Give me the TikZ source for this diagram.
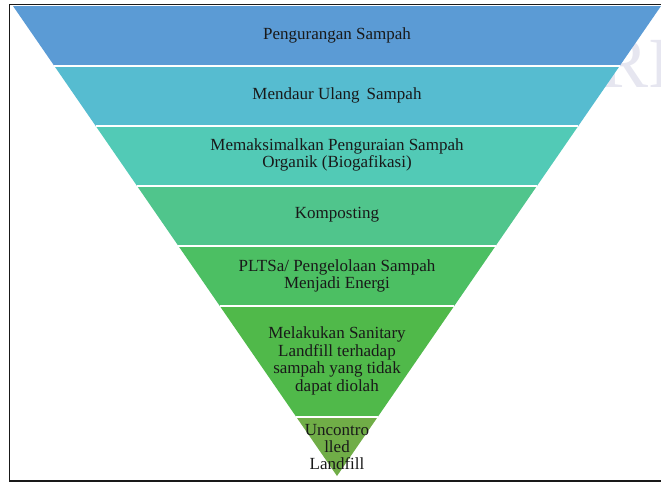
\documentclass[tikz,border=0pt]{standalone}
\usepackage{fontspec}
\setmainfont{Liberation Serif}
\usetikzlibrary{calc}
\definecolor{lvlA}{HTML}{5B9BD5}
\definecolor{lvlB}{HTML}{56BCD0}
\definecolor{lvlC}{HTML}{52CAB6}
\definecolor{lvlD}{HTML}{50C58C}
\definecolor{lvlE}{HTML}{4CBF63}
\definecolor{lvlF}{HTML}{50B94A}
\definecolor{lvlG}{HTML}{70AD47}
\definecolor{wmark}{HTML}{E6E6F0}
\begin{document}
\begin{tikzpicture}[x=1pt,y=-1pt,
  lbl/.style={font=\fontsize{17}{17.4}\selectfont, align=center, text=black!90, inner sep=0pt},
  sep/.style={white, line width=1.8pt},
  frame/.style={black!90, line width=1.6pt}]
\useasboundingbox (0,0) rectangle (661,483);
% faint watermark behind the funnel
\node[text=wmark, font=\fontsize{72}{72}\selectfont, anchor=west, inner sep=0pt] (wm) at (600,64) {RI};
% outer corners of the inverted triangle
\coordinate (L) at (13,6);
\coordinate (R) at (661,6);
\coordinate (A) at (337,476);
% coloured levels, top to bottom
\foreach \ya/\yb/\col in {6/66/lvlA, 66/126/lvlB, 126/186/lvlC, 186/246/lvlD, 246/306/lvlE, 306/417/lvlF, 417/476/lvlG}{
  \fill[\col] ($(L)!{(\ya-6)/470}!(A)$) -- ($(R)!{(\ya-6)/470}!(A)$)
     -- ($(R)!{(\yb-6)/470}!(A)$) -- ($(L)!{(\yb-6)/470}!(A)$) -- cycle;
}
% thin white gaps between the levels
\foreach \y in {66,126,186,246,306,417}{
  \draw[sep] ($(L)!{(\y-6)/470}!(A)$) -- ($(R)!{(\y-6)/470}!(A)$);
}
% labels
\node[lbl] (t1) at (337,35) {Pengurangan Sampah};
\node[lbl] (t2) at (337,95) {Mendaur Ulang\, Sampah};
\node[lbl] (t3) at (337,155) {Memaksimalkan Penguraian Sampah\\Organik (Biogafikasi)};
\node[lbl] (t4) at (337,215) {Komposting};
\node[lbl] (t5) at (337,276) {PLTSa/ Pengelolaan Sampah\\Menjadi Energi};
\node[lbl] (t6) at (337,361) {Melakukan Sanitary\\Landfill terhadap\\sampah yang tidak\\dapat diolah};
\node[lbl] (t7) at (337,447) {Uncontro\\lled\\Landfill};
% surrounding frame (open to the right)
\draw[frame] (672,4.5) -- (9.5,4.5) -- (9.5,481) -- (672,481);
\end{tikzpicture}
\end{document}
